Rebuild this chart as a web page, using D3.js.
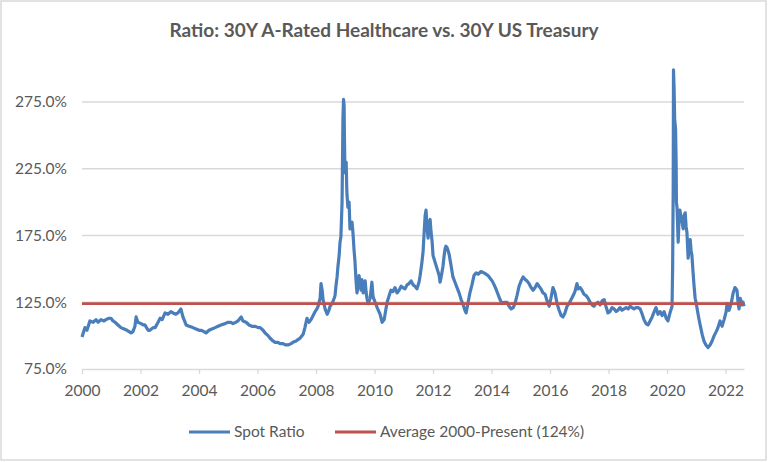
<!DOCTYPE html>
<html><head><meta charset="utf-8">
<script src="https://cdn.jsdelivr.net/npm/d3@7"></script>
<style>body{margin:0;background:#fff;}svg{display:block;}</style>
</head><body><svg id="c" width="768" height="462"></svg>
<script>
const title = "Ratio: 30Y A-Rated Healthcare vs. 30Y US Treasury";
const seriesNames = ["Spot Ratio", "Average 2000-Present (124%)"];
const averageValue = 124;
const yTicks = [75, 125, 175, 225, 275];
const xTicks = [2000, 2002, 2004, 2006, 2008, 2010, 2012, 2014, 2016, 2018, 2020, 2022];
// dates in decimal years
const dates = [
2000.00,2000.03,2000.10,2000.17,2000.27,2000.38,2000.48,2000.55,2000.65,2000.75,
2000.82,2000.92,2000.99,2001.06,2001.13,2001.23,2001.33,2001.44,2001.54,2001.68,
2001.74,2001.81,2001.85,2001.91,2002.02,2002.09,2002.15,2002.26,2002.32,2002.43,
2002.50,2002.60,2002.67,2002.74,2002.84,2002.94,2003.04,2003.11,2003.21,2003.28,
2003.38,2003.45,2003.56,2003.66,2003.79,2003.90,2004.00,2004.07,2004.17,2004.24,
2004.34,2004.44,2004.55,2004.65,2004.75,2004.89,2004.99,2005.09,2005.16,2005.26,
2005.33,2005.44,2005.50,2005.61,2005.71,2005.81,2005.91,2006.02,2006.09,2006.19,
2006.26,2006.36,2006.43,2006.53,2006.60,2006.70,2006.77,2006.87,2006.97,2007.04,
2007.15,2007.21,2007.32,2007.38,2007.45,2007.56,2007.62,2007.69,2007.76,2007.83,
2007.90,2007.97,2008.03,2008.07,2008.14,2008.17,2008.21,2008.24,2008.31,2008.38,
2008.44,2008.48,2008.55,2008.62,2008.65,2008.68,2008.72,2008.75,2008.79,2008.82,
2008.85,2008.89,2008.91,2008.92,2008.94,2008.96,2008.97,2008.99,2009.03,2009.05,
2009.06,2009.09,2009.13,2009.16,2009.20,2009.23,2009.26,2009.30,2009.33,2009.37,
2009.40,2009.44,2009.47,2009.50,2009.54,2009.57,2009.61,2009.64,2009.68,2009.71,
2009.74,2009.78,2009.85,2009.91,2009.95,2010.02,2010.09,2010.15,2010.19,2010.26,
2010.33,2010.39,2010.43,2010.50,2010.56,2010.63,2010.70,2010.77,2010.84,2010.91,
2010.97,2011.04,2011.11,2011.18,2011.25,2011.32,2011.38,2011.45,2011.52,2011.56,
2011.62,2011.66,2011.69,2011.73,2011.76,2011.79,2011.83,2011.86,2011.90,2011.93,
2011.97,2012.00,2012.07,2012.14,2012.21,2012.24,2012.27,2012.31,2012.34,2012.38,
2012.41,2012.44,2012.48,2012.51,2012.55,2012.58,2012.62,2012.68,2012.75,2012.82,
2012.89,2012.96,2013.03,2013.09,2013.13,2013.20,2013.26,2013.33,2013.40,2013.47,
2013.54,2013.64,2013.74,2013.81,2013.88,2013.95,2014.02,2014.09,2014.15,2014.22,
2014.29,2014.36,2014.43,2014.53,2014.60,2014.67,2014.74,2014.80,2014.87,2014.94,
2015.01,2015.08,2015.15,2015.21,2015.28,2015.35,2015.42,2015.49,2015.56,2015.62,
2015.69,2015.76,2015.83,2015.90,2015.97,2016.03,2016.10,2016.17,2016.24,2016.31,
2016.38,2016.44,2016.51,2016.58,2016.65,2016.72,2016.79,2016.85,2016.92,2016.96,
2017.03,2017.09,2017.16,2017.23,2017.30,2017.37,2017.44,2017.50,2017.57,2017.64,
2017.71,2017.78,2017.85,2017.91,2017.98,2018.05,2018.12,2018.19,2018.26,2018.32,
2018.39,2018.46,2018.53,2018.60,2018.67,2018.74,2018.80,2018.87,2018.94,2019.01,
2019.08,2019.15,2019.21,2019.28,2019.35,2019.42,2019.49,2019.56,2019.62,2019.69,
2019.76,2019.83,2019.90,2019.97,2020.03,2020.10,2020.17,2020.19,2020.21,2020.22,
2020.24,2020.26,2020.29,2020.31,2020.32,2020.34,2020.38,2020.41,2020.44,2020.48,
2020.51,2020.55,2020.58,2020.62,2020.65,2020.68,2020.72,2020.75,2020.79,2020.82,
2020.85,2020.89,2020.92,2020.96,2020.99,2021.06,2021.13,2021.20,2021.26,2021.33,
2021.40,2021.47,2021.54,2021.61,2021.68,2021.74,2021.81,2021.88,2021.95,2022.02,
2022.05,2022.12,2022.19,2022.26,2022.32,2022.39,2022.43,2022.46,2022.50,2022.53,
2022.56,2022.60,2022.63
];
// spot ratio, percent
const values = [
99,101,106,104,111,110,112,110,112,111,
112,113,113,111,110,108,106,105,104,102,
103,107,114,110,109,108,108,104,104,106,
106,110,113,112,117,116,118,117,116,117,
120,114,108,107,106,105,104,104,103,102,
104,105,106,107,108,109,110,110,109,110,
111,114,111,110,108,107,107,106,106,104,
102,100,98,96,95,95,94,94,93,93,
94,95,96,97,98,101,106,113,110,112,
115,118,120,122,128,139,134,127,120,116,
119,122,124,128,130,137,144,152,160,170,
174,200,240,262,277,272,250,222,230,211,
205,196,200,180,184,185,178,164,156,140,
132,138,145,140,134,142,132,136,141,133,
128,124,128,140,129,125,121,118,116,110,
112,120,125,130,134,133,136,132,134,137,
136,135,138,139,141,138,137,135,140,145,
155,163,175,190,194,183,173,183,187,178,
170,160,155,150,145,140,143,148,152,160,
165,167,166,164,161,157,152,144,140,136,
132,127,123,119,117,125,132,138,145,147,
146,148,147,146,145,143,141,138,135,131,
127,124,125,125,122,120,121,124,130,137,
141,144,142,141,139,136,134,136,139,137,
135,132,131,126,122,128,136,132,124,119,
115,114,117,122,124,127,130,133,139,135,
136,134,131,130,128,125,123,122,124,125,
123,126,127,122,117,118,121,120,118,119,
121,119,120,121,120,122,121,120,121,121,
120,116,112,109,108,111,114,118,121,116,
118,115,118,113,111,117,122,150,210,299,
285,262,255,230,200,196,170,187,194,188,
186,180,190,192,182,177,158,165,172,164,
160,147,138,128,125,116,108,101,96,93,
91,93,96,100,103,106,111,107,112,118,
124,119,124,132,136,134,124,120,128,126,
123,125,122
];

const W = 768, H = 462;
const svg = d3.select("#c");
const x = d3.scaleLinear().domain([2000, 2022.63]).range([82, 744]);
const y = d3.scaleLinear().domain([75, 275]).range([369, 102]);
const grey = "#595959";
const font = "Lato, 'Open Sans', sans-serif";

svg.append("rect").attr("x", 1).attr("y", 1).attr("width", W - 3).attr("height", H - 3)
  .attr("fill", "#fff").attr("stroke", "#d9d9d9").attr("stroke-width", 1.5);

svg.append("text").attr("x", 384).attr("y", 37).attr("text-anchor", "middle")
  .attr("font-family", font).attr("font-weight", "bold").attr("font-size", 19)
  .attr("fill", grey).text(title);

// gridlines
svg.append("g").selectAll("line").data(yTicks.slice(1)).join("line")
  .attr("x1", x.range()[0]).attr("x2", x.range()[1])
  .attr("y1", d => y(d)).attr("y2", d => y(d))
  .attr("stroke", "#d9d9d9").attr("stroke-width", 1.3);

// y labels
svg.append("g").selectAll("text").data(yTicks).join("text")
  .attr("x", 67).attr("y", d => y(d)).attr("dy", "0.35em").attr("text-anchor", "end")
  .attr("font-family", font).attr("font-size", 15.5).attr("fill", grey)
  .text(d => d3.format(".1f")(d) + "%");

// x axis
const xAxis = d3.axisBottom(x).tickValues(xTicks).tickFormat(d3.format("d")).tickSize(5).tickSizeOuter(0);
const gx = svg.append("g").attr("transform", `translate(0,${y(75)})`).call(xAxis);
gx.select(".domain").attr("stroke", "#d9d9d9").attr("stroke-width", 1.3);
gx.selectAll(".tick line").attr("stroke", "#d9d9d9").attr("stroke-width", 1.3);
gx.selectAll(".tick text").attr("font-family", font).attr("font-size", 15.5).attr("fill", grey).attr("dy", "1.2em");

// series
const data = dates.map((d, i) => [d, values[i]]);
svg.append("path").datum(data)
  .attr("fill", "none").attr("stroke", "#4A7EBB").attr("stroke-width", 3.2)
  .attr("stroke-linejoin", "round")
  .attr("d", d3.line().x(d => x(d[0])).y(d => y(d[1])));

svg.append("line").attr("x1", x.range()[0]).attr("x2", x.range()[1])
  .attr("y1", y(averageValue)).attr("y2", y(averageValue))
  .attr("stroke", "#C0504D").attr("stroke-width", 2.8);

// legend
const legend = [
  {name: seriesNames[0], color: "#4A7EBB", x: 189},
  {name: seriesNames[1], color: "#C0504D", x: 335}
];
const lg = svg.append("g").selectAll("g").data(legend).join("g")
  .attr("transform", d => `translate(${d.x},432)`);
lg.append("line").attr("x1", 0).attr("x2", 41).attr("stroke", d => d.color).attr("stroke-width", 2.8);
lg.append("text").attr("x", 45).attr("dy", "0.35em").attr("font-family", font)
  .attr("font-size", 15.5).attr("fill", grey).text(d => d.name);
</script></body></html>
